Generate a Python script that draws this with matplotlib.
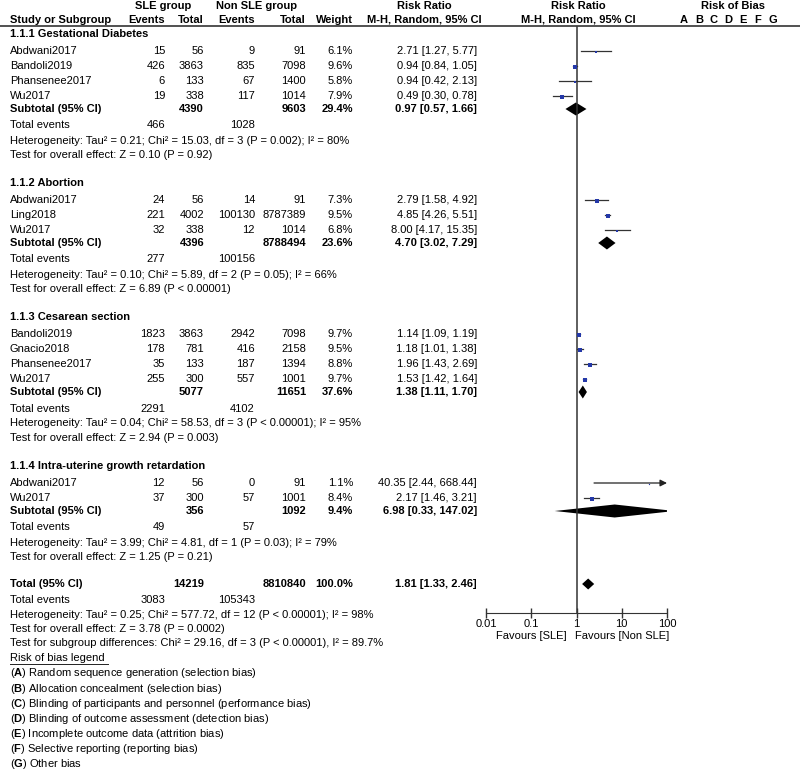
import matplotlib
matplotlib.use("Agg")
import matplotlib.pyplot as plt
import numpy as np

plt.rcParams['font.family'] = ['Liberation Sans', 'DejaVu Sans']
plt.rcParams['mathtext.fontset'] = 'custom'
plt.rcParams['mathtext.rm'] = 'Liberation Sans'
plt.rcParams['mathtext.bf'] = 'Liberation Sans:bold'

# ---- data ----
groups = ["1.1.1 Gestational Diabetes", "1.1.2 Abortion",
          "1.1.3 Cesarean section", "1.1.4 Intra-uterine growth retardation"]

studies = [["Abdwani2017", "Bandoli2019", "Phansenee2017", "Wu2017"],
           ["Abdwani2017", "Ling2018", "Wu2017"],
           ["Bandoli2019", "Gnacio2018", "Phansenee2017", "Wu2017"],
           ["Abdwani2017", "Wu2017"]]
sle_events = [[15, 426, 6, 19], [24, 221, 32], [1823, 178, 35, 255], [12, 37]]
sle_total = [[56, 3863, 133, 338], [56, 4002, 338], [3863, 781, 133, 300], [56, 300]]
non_events = [[9, 835, 67, 117], [14, 100130, 12], [2942, 416, 187, 557], [0, 57]]
non_total = [[91, 7098, 1400, 1014], [91, 8787389, 1014], [7098, 2158, 1394, 1001], [91, 1001]]
weights = [[6.1, 9.6, 5.8, 7.9], [7.3, 9.5, 6.8], [9.7, 9.5, 8.8, 9.7], [1.1, 8.4]]
rr = [[2.71, 0.94, 0.94, 0.49], [2.79, 4.85, 8.00], [1.14, 1.18, 1.96, 1.53], [40.35, 2.17]]
rr_lo = [[1.27, 0.84, 0.42, 0.30], [1.58, 4.26, 4.17], [1.09, 1.01, 1.43, 1.42], [2.44, 1.46]]
rr_hi = [[5.77, 1.05, 2.13, 0.78], [4.92, 5.51, 15.35], [1.19, 1.38, 2.69, 1.64], [668.44, 3.21]]

sub_sle_total = [4390, 4396, 5077, 356]
sub_non_total = [9603, 8788494, 11651, 1092]
sub_weight = [29.4, 23.6, 37.6, 9.4]
sub_rr = [0.97, 4.70, 1.38, 6.98]
sub_lo = [0.57, 3.02, 1.11, 0.33]
sub_hi = [1.66, 7.29, 1.70, 147.02]
sub_ev_sle = [466, 277, 2291, 49]
sub_ev_non = [1028, 100156, 4102, 57]
sub_het = ["Heterogeneity: Tau² = 0.21; Chi² = 15.03, df = 3 (P = 0.002); I² = 80%",
           "Heterogeneity: Tau² = 0.10; Chi² = 5.89, df = 2 (P = 0.05); I² = 66%",
           "Heterogeneity: Tau² = 0.04; Chi² = 58.53, df = 3 (P < 0.00001); I² = 95%",
           "Heterogeneity: Tau² = 3.99; Chi² = 4.81, df = 1 (P = 0.03); I² = 79%"]
sub_test = ["Test for overall effect: Z = 0.10 (P = 0.92)",
            "Test for overall effect: Z = 6.89 (P < 0.00001)",
            "Test for overall effect: Z = 2.94 (P = 0.003)",
            "Test for overall effect: Z = 1.25 (P = 0.21)"]

tot_sle_total, tot_non_total = 14219, 8810840
tot_rr, tot_lo, tot_hi = 1.81, 1.33, 2.46
tot_ev_sle, tot_ev_non = 3083, 105343
tot_lines = ["Heterogeneity: Tau² = 0.25; Chi² = 577.72, df = 12 (P < 0.00001); I² = 98%",
             "Test for overall effect: Z = 3.78 (P = 0.0002)",
             "Test for subgroup differences: Chi² = 29.16, df = 3 (P < 0.00001), I² = 89.7%"]

bias_keys = list("ABCDEFG")
bias_legend = ["Random sequence generation (selection bias)",
               "Allocation concealment (selection bias)",
               "Blinding of participants and personnel (performance bias)",
               "Blinding of outcome assessment (detection bias)",
               "Incomplete outcome data (attrition bias)",
               "Selective reporting (reporting bias)",
               "Other bias"]

tick_vals = [0.01, 0.1, 1, 10, 100]
tick_labels = ["0.01", "0.1", "1", "10", "100"]

# ---- layout (pixels) ----
W, H = 800, 773
FS = 8
x_name, x_se, x_st, x_ne, x_nt, x_w, x_rr = 10, 165, 204, 255, 306, 353, 477
fx_left, fx_right = 486, 667
sq_col = '#2438a8'

fig = plt.figure(figsize=(W / 100, H / 100), dpi=100)
ax = fig.add_axes([0, 0, 1, 1])
ax.set_xlim(0, W)
ax.set_ylim(H, 0)
ax.axis('off')

fx = fig.add_axes([fx_left / W, 0, (fx_right - fx_left) / W, 1])
fx.set_xscale('log')
fx.set_xlim(tick_vals[0], tick_vals[-1])
fx.set_ylim(H, 0)
fx.patch.set_visible(False)


def t(x, y, s, ha='left', bold=False, **kw):
    ax.text(x, y, s, ha=ha, va='center', fontsize=FS,
            fontweight='bold' if bold else 'normal', **kw)


def diamond(est, lo, hi, y, h):
    fx.fill([lo, est, hi, est], [y, y - h / 2, y, y + h / 2], color='black', lw=0)


# header
t(163, 6, "SLE group", ha='center', bold=True)
t(257, 6, "Non SLE group", ha='center', bold=True)
t(424, 6, "Risk Ratio", ha='center', bold=True)
t(578, 6, "Risk Ratio", ha='center', bold=True)
t(733, 6, "Risk of Bias", ha='center', bold=True)
t(x_name, 20, "Study or Subgroup", bold=True)
t(x_se, 20, "Events", ha='right', bold=True)
t(x_st, 20, "Total", ha='right', bold=True)
t(x_ne, 20, "Events", ha='right', bold=True)
t(x_nt, 20, "Total", ha='right', bold=True)
t(x_w, 20, "Weight", ha='right', bold=True)
t(424, 20, "M-H, Random, 95% CI", ha='center', bold=True)
t(578, 20, "M-H, Random, 95% CI", ha='center', bold=True)
for i, k in enumerate(bias_keys):
    t(684 + i * 14.8, 20, k, ha='center', bold=True)
ax.plot([0, W], [26, 26], color='#333333', lw=1.2)

y = 34
for g in range(len(groups)):
    t(x_name, y, groups[g], bold=True)
    y += 17
    for i in range(len(studies[g])):
        t(x_name, y, studies[g][i])
        t(x_se, y, str(sle_events[g][i]), ha='right')
        t(x_st, y, str(sle_total[g][i]), ha='right')
        t(x_ne, y, str(non_events[g][i]), ha='right')
        t(x_nt, y, str(non_total[g][i]), ha='right')
        t(x_w, y, f"{weights[g][i]:.1f}%", ha='right')
        t(x_rr, y, f"{rr[g][i]:.2f} [{rr_lo[g][i]:.2f}, {rr_hi[g][i]:.2f}]", ha='right')
        hi = rr_hi[g][i]
        if hi > tick_vals[-1]:
            fx.annotate("", xy=(tick_vals[-1], y), xytext=(rr_lo[g][i], y),
                        arrowprops=dict(arrowstyle='-|>', color='#222222', lw=0.9,
                                        mutation_scale=10, shrinkA=0, shrinkB=0))
        else:
            fx.plot([rr_lo[g][i], hi], [y, y], color='#333333', lw=0.9)
        fx.plot(rr[g][i], y + 1, 's', color=sq_col, ms=0.8 * np.sqrt(weights[g][i]),
                mew=0, zorder=3)
        y += 15
    y -= 2
    t(x_name, y, "Subtotal (95% CI)", bold=True)
    t(x_st, y, str(sub_sle_total[g]), ha='right', bold=True)
    t(x_nt, y, str(sub_non_total[g]), ha='right', bold=True)
    t(x_w, y, f"{sub_weight[g]:.1f}%", ha='right', bold=True)
    t(x_rr, y, f"{sub_rr[g]:.2f} [{sub_lo[g]:.2f}, {sub_hi[g]:.2f}]", ha='right', bold=True)
    diamond(sub_rr[g], sub_lo[g], sub_hi[g], y, 13)
    y += 16.5
    t(x_name, y, "Total events")
    t(x_se, y, str(sub_ev_sle[g]), ha='right')
    t(x_ne, y, str(sub_ev_non[g]), ha='right')
    y += 15
    t(x_name, y, sub_het[g])
    y += 14.5
    t(x_name, y, sub_test[g])
    y += 28

y -= 1
t(x_name, y, "Total (95% CI)", bold=True)
t(x_st, y, str(tot_sle_total), ha='right', bold=True)
t(x_nt, y, str(tot_non_total), ha='right', bold=True)
t(x_w, y, "100.0%", ha='right', bold=True)
t(x_rr, y, f"{tot_rr:.2f} [{tot_lo:.2f}, {tot_hi:.2f}]", ha='right', bold=True)
diamond(tot_rr, tot_lo, tot_hi, y, 11)
y += 16
t(x_name, y, "Total events")
t(x_se, y, str(tot_ev_sle), ha='right')
t(x_ne, y, str(tot_ev_non), ha='right')
for line in tot_lines:
    y += 14.5
    t(x_name, y, line)
y += 14.8
leg = ax.text(x_name, y, "Risk of bias legend ", ha='left', va='center', fontsize=FS)
fig.canvas.draw()
bb = leg.get_window_extent().transformed(ax.transData.inverted())
ax.plot([bb.x0, bb.x1], [y + 6, y + 6], color='#222222', lw=0.7)
for k, s in zip(bias_keys, bias_legend):
    y += 15.1
    t(x_name, y, f"($\\mathbf{{{k}}}$) {s}")

# forest axis
axis_y = 613
fx.axvline(1, ymin=1 - 27 / H, ymax=1 - axis_y / H, color='#333333', lw=1.1)
for side in ['top', 'left', 'right']:
    fx.spines[side].set_visible(False)
fx.spines['bottom'].set_position(('data', axis_y))
fx.spines['bottom'].set_color('#333333')
fx.set_yticks([])
fx.set_xticks(tick_vals)
fx.set_xticklabels(tick_labels, fontsize=FS)
fx.xaxis.set_minor_locator(matplotlib.ticker.NullLocator())
fx.tick_params(axis='x', direction='inout', length=7, width=1, pad=1, colors='#333333',
               labelcolor='black')
fx.text(0.1, 636, "Favours [SLE]", ha='center', va='center', fontsize=FS)
fx.text(10, 636, "Favours [Non SLE]", ha='center', va='center', fontsize=FS)

fig.savefig("out.png", dpi=100)
